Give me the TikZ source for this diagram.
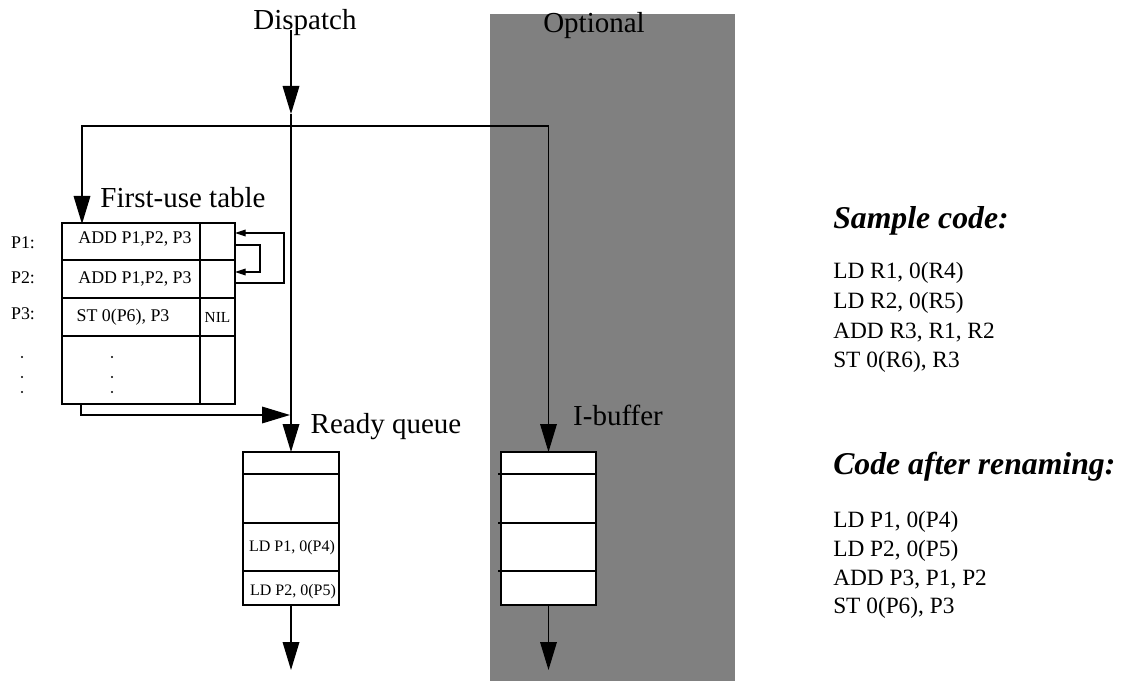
\documentclass[tikz,border=0pt]{standalone}
\usepackage{fontspec}
\setmainfont{Liberation Serif}
\usetikzlibrary{arrows.meta,calc}

\tikzset{
  cell/.style 2 args={draw, line width=0.9pt, fill=white, inner sep=0pt, outer sep=0pt,
    anchor=north west, minimum width=#1*0.75pt, minimum height=#2*0.75pt},
  bigarrow/.style={-{Triangle[length=21pt,width=12.5pt]}, line width=0.9pt},
  smallarrow/.style={-{Triangle[length=8pt,width=5pt]}, line width=0.9pt},
  lbl/.style={inner sep=0pt, anchor=base, font=\fontsize{21.75}{26}\selectfont},
  celltext/.style={inner sep=0pt, font=\fontsize{13.4}{15}\selectfont},
  qtext/.style={inner sep=0pt, font=\fontsize{12}{14}\selectfont},
  codehead/.style={inner sep=0pt, anchor=west, font=\fontsize{23.8}{28}\selectfont\bfseries\itshape},
  codeline/.style={inner sep=0pt, anchor=west, font=\fontsize{17.5}{20}\selectfont}
}

\begin{document}
\begin{tikzpicture}[x=0.75pt,y=-0.75pt]
  \useasboundingbox (0,0) rectangle (1122,681);

  % optional area
  \fill[gray] (490,14) rectangle (735,681);
  \node[lbl] (opt) at (594,33) {Optional};

  % first-use table
  \node[cell={138}{37}] (r1l) at (62,223) {};
  \node[cell={35}{37}]  (r1r) at (200,223) {};
  \node[cell={138}{38}] (r2l) at (62,260) {};
  \node[cell={35}{38}]  (r2r) at (200,260) {};
  \node[cell={138}{38}] (r3l) at (62,298) {};
  \node[cell={35}{38}]  (r3r) at (200,298) {};
  \node[cell={138}{68}] (r4l) at (62,336) {};
  \node[cell={35}{68}]  (r4r) at (200,336) {};
  \node[lbl] (ftab) at (183,208) {First-use table};

  \node[celltext] (t1) at (135,239) {ADD P1,P2, P3};
  \node[celltext] (t2) at (135,279) {ADD P1,P2, P3};
  \node[celltext] (t3) at (123,317) {ST 0(P6), P3};
  \node[inner sep=0pt, font=\fontsize{11.5}{13}\selectfont] (nil) at (r3r) {NIL};
  \foreach \k/\y in {1/243,2/278,3/314}
    \node[celltext] (p\k) at (23,\y) {P\k:};
  \foreach \y in {357,377,392} {
    \fill (22,\y) circle (0.9pt);
    \fill (112,\y) circle (0.9pt);
  }

  % pointer links
  \draw[smallarrow] ($(r2r.east)+(0,4)$) -- ++(49,0) |- ($(r1r.east)+(0,-8.5)$);
  \draw[smallarrow] ($(r1r.east)+(0,3.5)$) -- ++(25,0) |- ($(r2r.east)+(0,-7)$);

  % ready queue
  \node[cell={96}{22}] (rq1) at (243,452) {};
  \node[cell={96}{49}] (rq2) at (243,474) {};
  \node[cell={96}{48}] (rq3) at (243,523) {};
  \node[cell={96}{34}] (rq4) at (243,571) {};
  \node[qtext] (q1) at (292,548) {LD P1, 0(P4)};
  \node[qtext] (q2) at (293,592) {LD P2, 0(P5)};
  \node[lbl] (rqlbl) at (386,433) {Ready queue};

  % I-buffer
  \node[cell={95}{22}] (ib1) at (501,452) {};
  \node[cell={95}{49}] (ib2) at (501,474) {};
  \node[cell={95}{48}] (ib3) at (501,523) {};
  \node[cell={95}{34}] (ib4) at (501,571) {};
  \foreach \k in {2,3,4}
    \draw[line width=0.9pt] (ib\k.north west) -- ++(-3,0);
  \node[lbl] (iblbl) at (618,425) {I-buffer};

  % dispatch and connectors
  \node[lbl] (dsp) at (305,30) {Dispatch};
  \coordinate (dtop) at (291,30);
  \coordinate (midtip) at (291,114);
  \coordinate (fork) at (291,126);
  \coordinate (ftin) at (82,224);
  \coordinate (merge) at (290,415);
  \coordinate (rqout) at (291,670);
  \coordinate (ibout) at (548.5,670);

  \draw[bigarrow] (dtop) -- (midtip);
  \draw[bigarrow] (midtip) -- (rq1.north);
  \draw[bigarrow] (fork) -| (ftin);
  \draw[bigarrow] (fork) -| (ib1.north);
  \draw[bigarrow] ($(r4l.south west)+(19,0)$) |- (merge);
  \draw[bigarrow] (rq4.south) -- (rqout);
  \draw[bigarrow] (ib4.south) -- (ibout);

  % sample code
  \node[codehead] (shead) at (833,221) {Sample code:};
  \foreach \k/\y/\txt in {1/273/{LD R1, 0(R4)},2/303/{LD R2, 0(R5)},3/333/{ADD R3, R1, R2},4/362/{ST 0(R6), R3}}
    \node[codeline] (s\k) at (833,\y) {\txt};
  \node[codehead] (rhead) at (833,467) {Code after renaming:};
  \foreach \k/\y/\txt in {1/522/{LD P1, 0(P4)},2/551/{LD P2, 0(P5)},3/580/{ADD P3, P1, P2},4/608/{ST 0(P6), P3}}
    \node[codeline] (c\k) at (833,\y) {\txt};
\end{tikzpicture}
\end{document}
